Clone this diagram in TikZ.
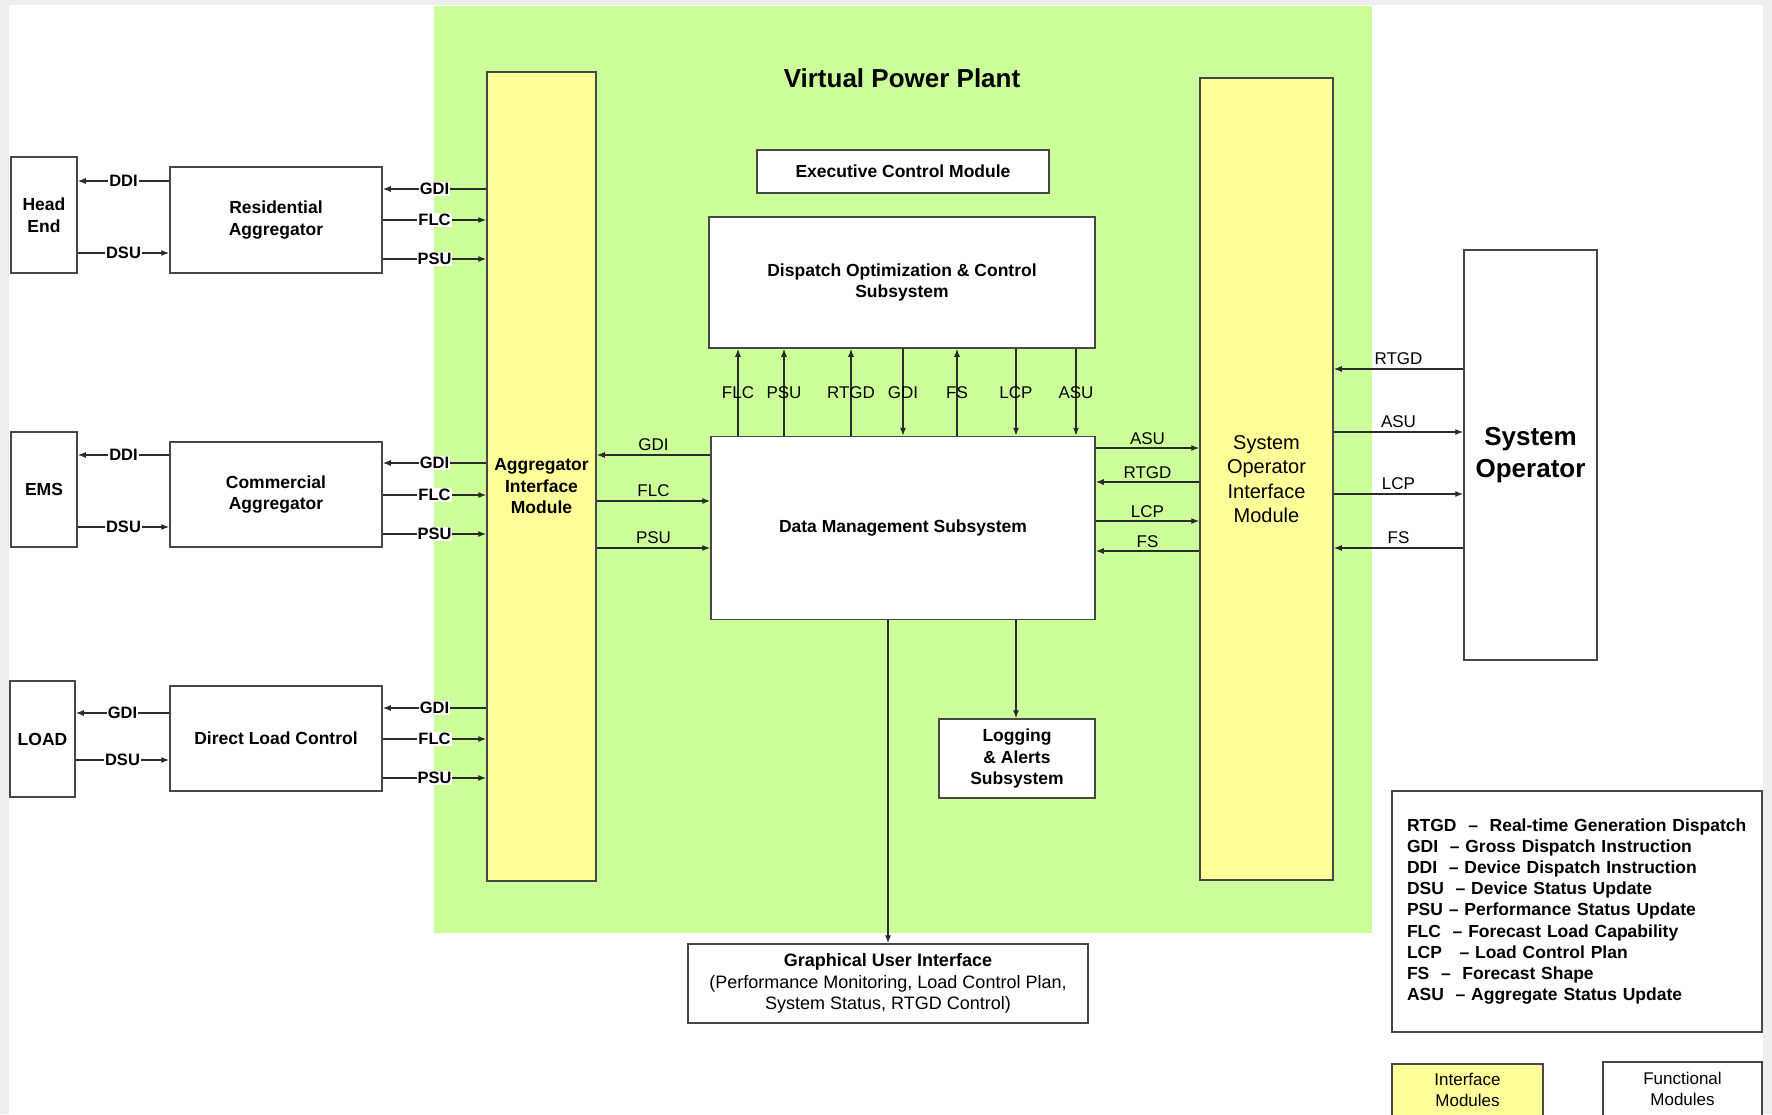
\documentclass[tikz,border=0pt]{standalone}
\usepackage{fontspec}
\setmainfont{Liberation Sans}
\usetikzlibrary{arrows.meta}
\definecolor{ink}{HTML}{2B2B2B}
\definecolor{frame}{HTML}{474747}
\definecolor{vppgreen}{HTML}{CCFF99}
\definecolor{ifyellow}{HTML}{FFFF99}
\definecolor{pagegray}{HTML}{EDEEEE}

\begin{document}
\begin{tikzpicture}[x=1pt,y=-1pt,
  box/.style={draw=frame,fill=white,line width=1.5pt,align=center,inner sep=2pt,
    font=\bfseries\fontsize{17.5}{21.5}\selectfont},
  iface/.style={box,fill=ifyellow},
  flow/.style={draw=ink,line width=1.2pt,-{Latex[length=8pt,width=6pt]}},
  tag/.style={fill=white,inner sep=1pt,font=\bfseries\fontsize{16.5}{18}\selectfont},
  sig/.style={inner sep=2pt,font=\fontsize{17}{19}\selectfont}]
  \useasboundingbox (0,0) rectangle (1772,1114);
  \fill[pagegray] (0,0) rectangle (1772,1114);
  \fill[white] (9,5) rectangle (1763,1114);
  % virtual power plant area
  \fill[vppgreen] (434,6) rectangle (1372,933);
  \node[font=\bfseries\fontsize{26}{30}\selectfont] (title) at (902,78) {Virtual Power Plant};

  % outside blocks
  \node[box,minimum width=66pt,minimum height=116pt] (headend) at (44,215) {Head\\End};
  \node[box,minimum width=212pt,minimum height=106pt] (resagg) at (276,220) {Residential\\Aggregator};
  \node[box,minimum width=66pt,minimum height=115pt] (ems) at (44,489.5) {EMS};
  \node[box,minimum width=212pt,minimum height=105pt] (comagg) at (276,494.5) {Commercial\\Aggregator};
  \node[box,minimum width=65pt,minimum height=116pt] (load) at (42.5,739) {LOAD};
  \node[box,minimum width=212pt,minimum height=105pt] (dlc) at (276,738.5) {Direct Load Control};
  \node[box,minimum width=133pt,minimum height=410pt,font=\bfseries\fontsize{26}{32}\selectfont] (sysop) at (1530.5,455) {System\\Operator};

  % modules inside
  \node[iface,minimum width=109pt,minimum height=809pt,
    label={[yshift=-10pt,align=center,font=\bfseries\fontsize{17.5}{21.5}\selectfont]center:Aggregator\\Interface\\Module}] (aim) at (541.5,476.5) {};
  \node[iface,minimum width=133pt,minimum height=802pt,font=\fontsize{20}{24.5}\selectfont] (soim) at (1266.5,479) {System\\Operator\\Interface\\Module};
  \node[box,minimum width=292pt,minimum height=43pt] (ecm) at (903,171.5) {Executive Control Module};
  \node[box,minimum width=386pt,minimum height=131pt] (docs) at (902,282.5) {Dispatch Optimization \& Control\\Subsystem};
  \node[box,minimum width=384pt,minimum height=183pt] (dms) at (903,528) {Data Management Subsystem};
  \node[box,minimum width=156pt,minimum height=79pt] (logs) at (1017,758.5) {Logging\\\& Alerts\\Subsystem};
  \node[box,minimum width=400pt,minimum height=79pt,font=\fontsize{18}{21.5}\selectfont] (gui) at (888,983.5)
    {\textbf{Graphical User Interface}\\(Performance Monitoring, Load Control Plan,\\System Status, RTGD Control)};

  % legend
  \node[box,minimum width=370pt,minimum height=241pt,text width=340pt,align=left,
    font=\bfseries\fontsize{17.5}{21.2}\selectfont] (legend) at (1577,911.5)
    {RTGD~~–~~Real-time Generation Dispatch\\
     GDI~~– Gross Dispatch Instruction\\
     DDI~~– Device Dispatch Instruction\\
     DSU~~– Device Status Update\\
     PSU – Performance Status Update\\
     FLC~~– Forecast Load Capability\\
     LCP~~~– Load Control Plan\\
     FS~~–~~Forecast Shape\\
     ASU~~– Aggregate Status Update};
  \node[iface,anchor=north,minimum width=151pt,minimum height=52pt,font=\fontsize{17}{21}\selectfont] (keyif) at (1467.5,1063) {Interface\\Modules};
  \node[box,anchor=north,minimum width=159pt,minimum height=54pt,font=\fontsize{17}{21}\selectfont] (keyfn) at (1682.5,1061) {Functional\\Modules};

  % residential aggregator links
  \draw[flow] (resagg.west |- 0,181) -- node[tag]{DDI} (headend.east |- 0,181);
  \draw[flow] (headend.east |- 0,253) -- node[tag]{DSU} (resagg.west |- 0,253);
  \draw[flow] (aim.west |- 0,189) -- node[tag]{GDI} (resagg.east |- 0,189);
  \draw[flow] (resagg.east |- 0,220) -- node[tag]{FLC} (aim.west |- 0,220);
  \draw[flow] (resagg.east |- 0,259) -- node[tag]{PSU} (aim.west |- 0,259);
  % commercial aggregator links
  \draw[flow] (comagg.west |- 0,455) -- node[tag]{DDI} (ems.east |- 0,455);
  \draw[flow] (ems.east |- 0,527) -- node[tag]{DSU} (comagg.west |- 0,527);
  \draw[flow] (aim.west |- 0,463) -- node[tag]{GDI} (comagg.east |- 0,463);
  \draw[flow] (comagg.east |- 0,495) -- node[tag]{FLC} (aim.west |- 0,495);
  \draw[flow] (comagg.east |- 0,534) -- node[tag]{PSU} (aim.west |- 0,534);
  % direct load control links
  \draw[flow] (dlc.west |- 0,713) -- node[tag]{GDI} (load.east |- 0,713);
  \draw[flow] (load.east |- 0,760) -- node[tag]{DSU} (dlc.west |- 0,760);
  \draw[flow] (aim.west |- 0,708) -- node[tag]{GDI} (dlc.east |- 0,708);
  \draw[flow] (dlc.east |- 0,739) -- node[tag]{FLC} (aim.west |- 0,739);
  \draw[flow] (dlc.east |- 0,778) -- node[tag]{PSU} (aim.west |- 0,778);

  % data management <-> aggregator interface
  \draw[flow] (dms.west |- 0,455) -- node[sig,above=2pt]{GDI} (aim.east |- 0,455);
  \draw[flow] (aim.east |- 0,501) -- node[sig,above=2pt]{FLC} (dms.west |- 0,501);
  \draw[flow] (aim.east |- 0,548) -- node[sig,above=2pt]{PSU} (dms.west |- 0,548);

  % data management <-> dispatch optimization
  \draw[flow] (dms.north -| 738,0) -- node[sig]{FLC} (docs.south -| 738,0);
  \draw[flow] (dms.north -| 784,0) -- node[sig]{PSU} (docs.south -| 784,0);
  \draw[flow] (dms.north -| 851,0) -- node[sig]{RTGD} (docs.south -| 851,0);
  \draw[flow] (docs.south -| 903,0) -- node[sig]{GDI} (dms.north -| 903,0);
  \draw[flow] (dms.north -| 957,0) -- node[sig]{FS} (docs.south -| 957,0);
  \draw[flow] (docs.south -| 1016,0) -- node[sig]{LCP} (dms.north -| 1016,0);
  \draw[flow] (docs.south -| 1076,0) -- node[sig]{ASU} (dms.north -| 1076,0);

  % data management <-> system operator interface
  \draw[flow] (dms.east |- 0,448) -- node[sig,above=1pt]{ASU} (soim.west |- 0,448);
  \draw[flow] (soim.west |- 0,482) -- node[sig,above=1pt]{RTGD} (dms.east |- 0,482);
  \draw[flow] (dms.east |- 0,521) -- node[sig,above=1pt]{LCP} (soim.west |- 0,521);
  \draw[flow] (soim.west |- 0,551) -- node[sig,above=1pt]{FS} (dms.east |- 0,551);

  % system operator interface <-> system operator
  \draw[flow] (sysop.west |- 0,369) -- node[sig,above=2pt]{RTGD} (soim.east |- 0,369);
  \draw[flow] (soim.east |- 0,432) -- node[sig,above=2pt]{ASU} (sysop.west |- 0,432);
  \draw[flow] (soim.east |- 0,494) -- node[sig,above=2pt]{LCP} (sysop.west |- 0,494);
  \draw[flow] (sysop.west |- 0,548) -- node[sig,above=2pt]{FS} (soim.east |- 0,548);

  % outputs of data management
  \draw[flow] (dms.south -| 888,0) -- (gui.north -| 888,0);
  \draw[flow] (dms.south -| 1016,0) -- (logs.north -| 1016,0);
\end{tikzpicture}
\end{document}
